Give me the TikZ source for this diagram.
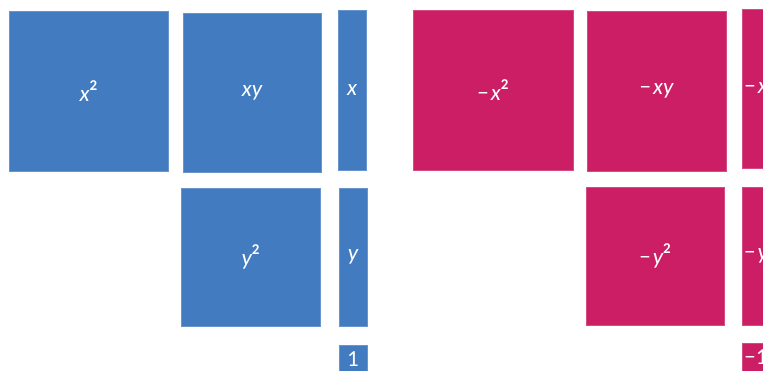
\documentclass[tikz,border=0pt]{standalone}
\usepackage{fontspec}
\setmainfont{Carlito}
\definecolor{tileblue}{RGB}{66,123,191}
\definecolor{tilered}{RGB}{203,30,100}
\newcommand{\sq}{\raisebox{0.45em}{\upshape\bfseries\fontsize{15}{15}\selectfont 2}}
\newcommand{\mn}{{\upshape −}\kern2pt}
\begin{document}
\begin{tikzpicture}[x=1pt,y=-1pt,
  tile/.style={rectangle, inner sep=0pt, text=white, font=\fontsize{23}{23}\selectfont\itshape, line width=0.6pt},
  bt/.style={tile, fill=tileblue, draw=tileblue!80!white},
  rt/.style={tile, fill=tilered, draw=tilered!80!white}]
\useasboundingbox (0,0) rectangle (763,371);
\clip (0,0) rectangle (763,371);
% blue tiles
\node[bt, minimum width=159pt, minimum height=160pt] (bxx) at (88.5,91) {x\sq};
\node[bt, minimum width=138pt, minimum height=159pt] (bxy) at (252,92.5) {xy};
\node[bt, minimum width=28pt, minimum height=160pt] (bx) at (352,90) {x};
\node[bt, minimum width=139pt, minimum height=138pt] (byy) at (250.5,257) {y\sq};
\node[bt, minimum width=28pt, minimum height=138pt] (by) at (353,257) {y};
\node[bt, minimum width=28pt, minimum height=28pt] (bone) at (353,359) {\upshape 1};
% red tiles
\node[rt, minimum width=160pt, minimum height=160pt] (rxx) at (493,90) {\mn x\sq};
\node[rt, minimum width=139pt, minimum height=160pt] (rxy) at (656.5,91) {\mn xy};
\node[rt, minimum width=28pt, minimum height=159pt] (rx) at (756,88.5) {\mn x};
\node[rt, minimum width=28pt, minimum height=138pt] (ry) at (756,256) {\mn y};
\node[rt, minimum width=138pt, minimum height=138pt] (ryy) at (655,256) {\mn y\sq};
\node[rt, minimum width=28pt, minimum height=28pt] (rone) at (756,357) {\upshape −1};
\end{tikzpicture}
\end{document}
